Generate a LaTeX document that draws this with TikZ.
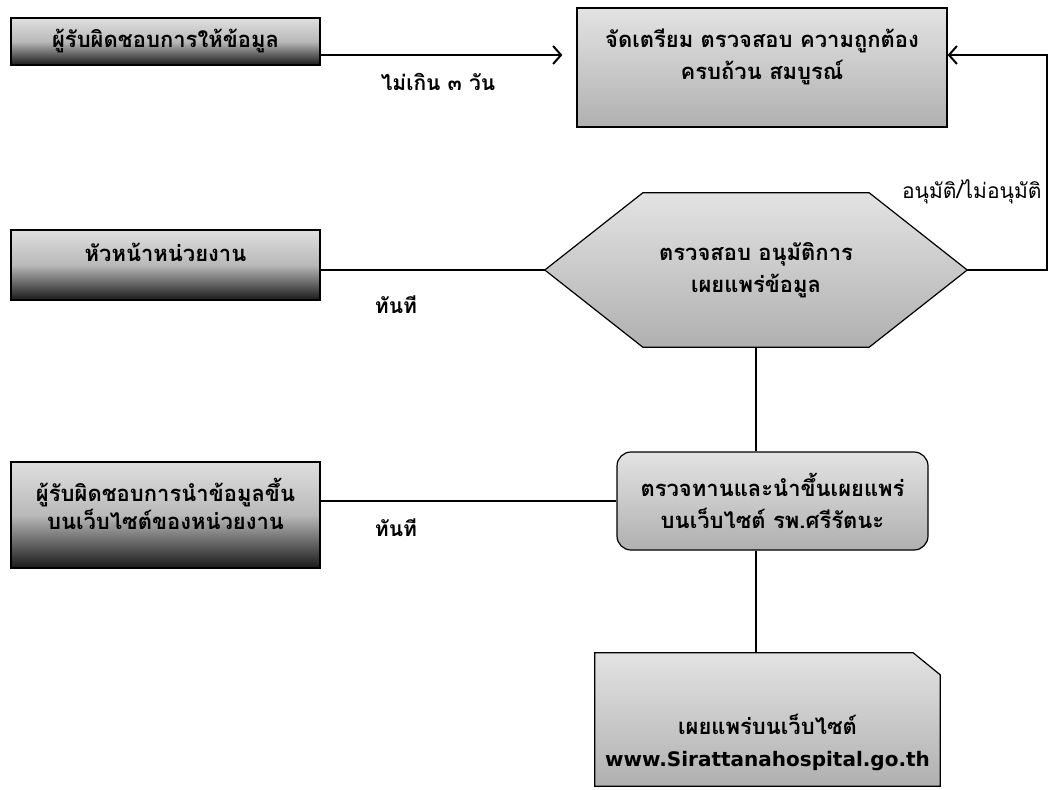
\documentclass[tikz,border=0pt]{standalone}
\usepackage{fontspec}
\newfontfamily\thai[Script=Thai]{Loma}
\newfontfamily\urlfont{DejaVu Sans}
\usetikzlibrary{calc,arrows.meta,backgrounds}
\tikzset{
  boxtext/.style={font=\thai\bfseries\fontsize{22}{34}\selectfont, align=center, text=black},
  darkbox/.style={boxtext, draw=black, line width=1.2pt, top color=gray!25, bottom color=black!90, middle color=gray!55},
  lightshade/.style={draw=black, line width=1.2pt, top color=gray!22, bottom color=gray!62},
  lightbox/.style={boxtext, lightshade},
  ghost/.style={boxtext, inner sep=0pt},
  link/.style={line width=2.4pt, draw=black},
  arr/.style={link, -{Straight Barb[length=8pt,width=18pt,line width=2pt]}},
  lbl/.style={font=\thai\bfseries\fontsize{21}{24}\selectfont},
  lblr/.style={font=\thai\fontsize{21}{24}\selectfont}
}
\begin{document}
\begin{tikzpicture}[x=1pt,y=-1pt]
\useasboundingbox (0,0) rectangle (1051,789);

% left boxes
\node[darkbox, minimum width=309pt, minimum height=47pt] (A) at (165.5,41.5) {ผู้รับผิดชอบการให้ข้อมูล};
\node[darkbox, minimum width=309pt, minimum height=70pt, text depth=26pt] (C) at (165.5,265) {หัวหน้าหน่วยงาน};
\node[darkbox, minimum width=309pt, minimum height=106pt, text depth=22pt] (F) at (165.5,515) {ผู้รับผิดชอบการนำข้อมูลขึ้น\\[-6pt]บนเว็บไซต์ของหน่วยงาน};

% right column
\node[lightbox, minimum width=370pt, minimum height=119pt, text depth=26pt] (B) at (762,67.5) {จัดเตรียม ตรวจสอบ ความถูกต้อง\\[-2pt]ครบถ้วน สมบูรณ์};
\node[ghost, minimum width=422pt, minimum height=154pt] (D) at (756,270) {ตรวจสอบ อนุมัติการ\\[-2pt]เผยแพร่ข้อมูล};
\node[lightbox, rounded corners=14pt, minimum width=311pt, minimum height=98pt] (E) at (772.5,501) {ตรวจทานและนำขึ้นเผยแพร่\\[-2pt]บนเว็บไซต์ รพ.ศรีรัตนะ};
\node[ghost, minimum width=345pt, minimum height=133pt] (G) at (767.5,719.5) {};
\node[boxtext] (Gt) at (767.5,742) {เผยแพร่บนเว็บไซต์\\[-2pt]{\urlfont\bfseries\fontsize{20}{24}\selectfont www.Sirattanahospital.go.th}};

\begin{scope}[on background layer]
  \fill[white] (0,0) rectangle (1051,789);
  \shade[lightshade] (D.west) -- ($(D.north west)+(98,0)$) -- ($(D.north east)+(-98,0)$) -- (D.east)
    -- ($(D.south east)+(-98,0)$) -- ($(D.south west)+(98,0)$) -- cycle;
  \shade[lightshade] (G.north west) -- ($(G.north east)+(-27,0)$) -- ($(G.north east)+(0,22)$)
    -- (G.south east) -- (G.south west) -- cycle;
\end{scope}

% connectors
\coordinate (ab) at (320,55);
\draw[arr, shorten >=14pt] (A.east |- ab) -- (B.west |- ab);
\draw[link] (C.east |- D.west) -- (D.west);
\draw[arr] (D.east) -- ++(80,0) |- (B.east |- ab);
\draw[link] (D.south) -- (D.south |- E.north);
\draw[link] (F.east |- E.west) -- (E.west);
\draw[link] (D.south |- E.south) -- (D.south |- G.north);

% labels
\node[lbl] (l1) at (438,82) {ไม่เกิน ๓ วัน};
\node[lbl] (l2) at (396,305) {ทันที};
\node[lbl] (l3) at (396,528) {ทันที};
\node[lblr, anchor=east] (l4) at (1045,192) {อนุมัติ/ไม่อนุมัติ};
\end{tikzpicture}
\end{document}
